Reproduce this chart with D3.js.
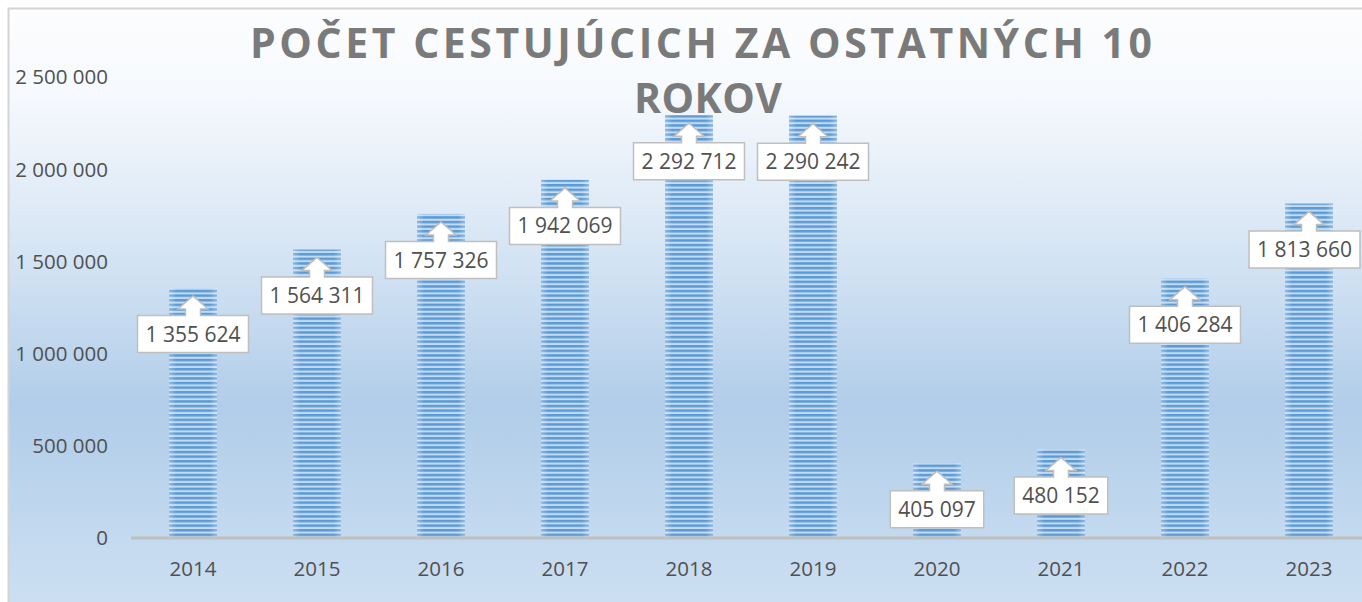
<!DOCTYPE html>
<html>
<head>
<meta charset="utf-8">
<title>Počet cestujúcich</title>
<script src="https://cdn.jsdelivr.net/npm/d3@7"></script>
<style>
  body { margin: 0; background: #fff; }
  svg { display: block; }
</style>
</head>
<body>
<svg id="chart" width="1362" height="602"></svg>
<script>
// data
const years = ['2014', '2015', '2016', '2017', '2018', '2019', '2020', '2021', '2022', '2023']
const passengers = [1355624, 1564311, 1757326, 1942069, 2292712, 2290242, 405097, 480152, 1406284, 1813660]
const yTicks = [0, 500000, 1000000, 1500000, 2000000, 2500000]
const titleLines = ['POČET CESTUJÚCICH ZA OSTATNÝCH 10', 'ROKOV']

const W = 1362, H = 602
const svg = d3.select('#chart')
const defs = svg.append('defs')

// chart background, white at top going to light blue
let bg = defs.append('linearGradient').attr('id', 'bg')
    .attr('x1', 0).attr('y1', 0).attr('x2', 0).attr('y2', 1)
bg.append('stop').attr('offset', '0%').attr('stop-color', '#fcfdfe')
bg.append('stop').attr('offset', '14%').attr('stop-color', '#f6f9fd')
bg.append('stop').attr('offset', '40%').attr('stop-color', '#d6e5f4')
bg.append('stop').attr('offset', '66%').attr('stop-color', '#b1cde9')
bg.append('stop').attr('offset', '100%').attr('stop-color', '#cde0f2')

// striped bar fill
let stripes = defs.append('pattern').attr('id', 'stripes')
    .attr('patternUnits', 'userSpaceOnUse')
    .attr('width', 8).attr('height', 4.6)
stripes.append('rect').attr('width', 8).attr('height', 4.6).attr('fill', '#c3daf1')
stripes.append('rect').attr('y', 0).attr('width', 8).attr('height', 2.5).attr('fill', '#5b9bd5')

// lighter edges on the bars
let edge = defs.append('linearGradient').attr('id', 'edge')
    .attr('x1', 0).attr('y1', 0).attr('x2', 1).attr('y2', 0)
edge.append('stop').attr('offset', '0%').attr('stop-color', '#fff').attr('stop-opacity', 0.3)
edge.append('stop').attr('offset', '15%').attr('stop-color', '#fff').attr('stop-opacity', 0)
edge.append('stop').attr('offset', '85%').attr('stop-color', '#fff').attr('stop-opacity', 0)
edge.append('stop').attr('offset', '100%').attr('stop-color', '#fff').attr('stop-opacity', 0.3)

svg.append('rect').attr('x', 8).attr('y', 8).attr('width', W).attr('height', H)
    .attr('fill', 'url(#bg)')
svg.append('path').attr('d', `M8.5,${H} V8.5 H${W}`)
    .attr('fill', 'none').attr('stroke', '#d4d4d4').attr('stroke-width', 2)

const x = d3.scaleBand().domain(years).range([131, 1371])
    .paddingInner(0.613).paddingOuter(0.3065)
const y = d3.scaleLinear().domain([0, 2500000]).range([538, 77])

const fmt = (v) => d3.format(',')(v).replace(/,/g, ' ')
const textColor = '#505050'
const font = '"Open Sans", sans-serif'

// y labels (no grid lines in the original)
svg.append('g').selectAll('text')
    .data(yTicks).enter().append('text')
    .attr('x', 108)
    .attr('y', (d) => y(d))
    .attr('dy', '0.36em')
    .attr('text-anchor', 'end')
    .attr('font-family', font).attr('font-size', 20.5)
    .attr('fill', textColor)
    .text((d) => fmt(d))

// bars
let bars = svg.append('g')
bars.selectAll('rect.bar')
    .data(passengers).enter().append('rect')
    .attr('class', 'bar')
    .attr('x', (d, i) => x(years[i]))
    .attr('y', (d) => y(d))
    .attr('width', x.bandwidth())
    .attr('height', (d) => y(0) - y(d))
    .attr('fill', 'url(#stripes)')
bars.selectAll('rect.edge')
    .data(passengers).enter().append('rect')
    .attr('class', 'edge')
    .attr('x', (d, i) => x(years[i]))
    .attr('y', (d) => y(d))
    .attr('width', x.bandwidth())
    .attr('height', (d) => y(0) - y(d))
    .attr('fill', 'url(#edge)')

// x axis line + labels
svg.append('line').attr('x1', x.range()[0]).attr('x2', W)
    .attr('y1', y(0)).attr('y2', y(0))
    .attr('stroke', '#bfbfbf').attr('stroke-width', 3)
svg.append('g').selectAll('text')
    .data(years).enter().append('text')
    .attr('x', (d) => x(d) + x.bandwidth() / 2)
    .attr('y', 576)
    .attr('text-anchor', 'middle')
    .attr('font-family', font).attr('font-size', 20.5)
    .attr('fill', textColor)
    .text((d) => d)

// data labels as up-arrow callouts
let callouts = svg.append('g')
passengers.forEach((v, i) => {
    const bx = x(years[i]) + x.bandwidth() / 2
    const tip = y(v) + 8
    const headBase = tip + 13
    const boxTop = tip + 19.5
    const boxH = 37
    let g = callouts.append('g')
    let t = g.append('text')
        .attr('font-family', font).attr('font-size', 21)
        .attr('fill', textColor)
        .attr('text-anchor', 'middle')
        .text(fmt(v))
    const tw = t.node().getComputedTextLength()
    const bw = tw + 16
    let cx = Math.min(bx, W - 2 - bw / 2)
    const l = cx - bw / 2, r = cx + bw / 2, b = boxTop + boxH
    const p = [
        [l, boxTop], [bx - 7.5, boxTop], [bx - 7.5, headBase], [bx - 15, headBase],
        [bx, tip], [bx + 15, headBase], [bx + 7.5, headBase], [bx + 7.5, boxTop],
        [r, boxTop], [r, b], [l, b]
    ]
    g.insert('path', 'text')
        .attr('d', 'M' + p.map((q) => q.join(',')).join('L') + 'Z')
        .attr('fill', '#fff')
        .attr('stroke', '#bfbfbf').attr('stroke-width', 1.5)
    t.attr('x', cx).attr('y', boxTop + boxH / 2).attr('dy', '0.36em')
})

// title, stretched to the width it has in the original
const titleSpans = [[250, 1152, 58], [634, 782, 113]]
titleLines.forEach((line, i) => {
    const s = titleSpans[i]
    svg.append('text')
        .attr('x', s[0]).attr('y', s[2])
        .attr('textLength', s[1] - s[0])
        .attr('lengthAdjust', 'spacing')
        .attr('font-family', font).attr('font-weight', 700)
        .attr('font-size', 41)
        .attr('fill', '#7a7a7a')
        .text(line)
})
</script>
</body>
</html>
